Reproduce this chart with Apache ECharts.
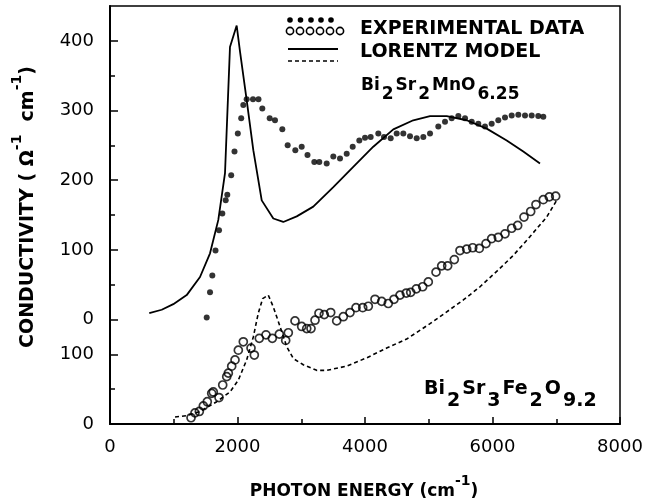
<!DOCTYPE html>
<html><head><meta charset="utf-8">
<script src="https://cdn.jsdelivr.net/npm/echarts@6/dist/echarts.min.js"></script>
<style>html,body{margin:0;padding:0;background:#fff}#c{width:649px;height:504px}</style>
</head><body><div id="c"></div>
<script>
// ---- tick labels ----
const xTickValues = [0, 2000, 4000, 6000, 8000];
const lowerTickLabels = [0, 100];            // Bi2Sr3Fe2O9.2 scale
const upperTickLabels = [0, 100, 200, 300, 400]; // Bi2Sr2MnO6.25 scale
const lowerMinorTicks = [50];
const upperMinorTicks = [50, 150, 250, 350];
const UPPER_OFFSET = 150; // upper curves are shifted up by 150 lower-scale units

// ---- Bi2Sr2MnO6.25 : Lorentz model (solid) ----
const mnModelX = [616, 811, 993, 1203, 1412, 1569, 1699, 1804, 1882, 1987, 2039, 2144, 2248, 2380, 2562, 2718, 2929, 3189, 3503, 3816, 4130, 4444, 4757, 5020, 5282, 5595, 5909, 6223, 6483, 6745];
const mnModelY = [9, 14, 22, 35, 61, 95, 143, 210, 391, 422, 385, 315, 243, 171, 145, 140, 148, 162, 190, 219, 248, 273, 286, 292, 292, 286, 274, 257, 241, 224];

// ---- Bi2Sr2MnO6.25 : experimental (filled dots) ----
const mnExpX = [1517, 1569, 1605, 1655, 1710, 1762, 1815, 1840, 1901, 1953, 2005, 2058, 2091, 2144, 2243, 2329, 2389, 2505, 2588, 2703, 2787, 2907, 3007, 3098, 3205, 3283, 3399, 3503, 3608, 3713, 3807, 3911, 4000, 4089, 4209, 4298, 4403, 4497, 4601, 4706, 4811, 4915, 5020, 5150, 5255, 5360, 5464, 5569, 5674, 5777, 5882, 5987, 6091, 6196, 6301, 6405, 6510, 6615, 6718, 6797];
const mnExpY = [3, 39, 63, 99, 128, 152, 171, 179, 207, 241, 267, 289, 308, 316, 316, 316, 303, 289, 286, 273, 250, 243, 248, 236, 226, 226, 224, 234, 231, 238, 248, 257, 261, 262, 267, 262, 260, 267, 267, 263, 260, 262, 267, 277, 284, 289, 292, 289, 284, 281, 277, 281, 286, 290, 293, 294, 293, 293, 292, 291];

// ---- Bi2Sr3Fe2O9.2 : experimental (open circles) ----
const feExpX = [1271, 1333, 1401, 1464, 1526, 1595, 1620, 1710, 1768, 1831, 1856, 1909, 1961, 2013, 2091, 2212, 2264, 2342, 2447, 2546, 2656, 2756, 2797, 2902, 3007, 3086, 3153, 3216, 3278, 3361, 3462, 3556, 3660, 3765, 3859, 3964, 4052, 4157, 4262, 4365, 4455, 4549, 4648, 4717, 4805, 4905, 4993, 5114, 5203, 5297, 5401, 5490, 5595, 5690, 5793, 5898, 5987, 6091, 6196, 6301, 6395, 6494, 6599, 6682, 6797, 6891, 6991];
const feExpY = [9, 16, 18, 26, 32, 44, 46, 38, 56, 68, 73, 83, 92, 106, 118, 109, 99, 123, 128, 123, 129, 120, 131, 148, 140, 137, 137, 149, 159, 157, 160, 148, 154, 160, 167, 167, 169, 179, 176, 173, 179, 185, 188, 189, 194, 197, 204, 218, 227, 227, 236, 249, 251, 253, 252, 259, 266, 268, 273, 281, 285, 297, 305, 315, 322, 326, 327];

// ---- Bi2Sr3Fe2O9.2 : Lorentz model (dashed) ----
const feModelX = [1020, 1203, 1412, 1674, 1882, 2013, 2144, 2248, 2326, 2395, 2483, 2562, 2667, 2772, 2875, 3032, 3242, 3399, 3713, 4027, 4340, 4654, 5020, 5282, 5542, 5804, 6066, 6326, 6588, 6850, 7007];
const feModelY = [10, 12, 18, 32, 46, 63, 92, 125, 159, 180, 185, 168, 140, 111, 94, 85, 77, 77, 83, 95, 109, 122, 144, 161, 178, 197, 219, 242, 269, 297, 321];

const FONT = "'DejaVu Sans', sans-serif";
const pairs = (xs, ys, off) => xs.map((x, i) => [x, ys[i] + (off || 0)]);

const majorY = lowerTickLabels.concat(upperTickLabels.map(v => v + UPPER_OFFSET));
const minorY = lowerMinorTicks.concat(upperMinorTicks.map(v => v + UPPER_OFFSET));

const chart = echarts.init(document.getElementById('c'), null, {renderer: 'canvas'});
chart.setOption({
  animation: false,
  backgroundColor: '#fff',
  grid: {left: 110, right: 29, top: 6, bottom: 80, show: true, borderColor: '#000', borderWidth: 1.5, outerBoundsMode: 'none', containLabel: false},
  xAxis: {
    type: 'value', min: 0, max: 8000, interval: 2000,
    axisLine: {show: true, lineStyle: {color: '#000', width: 2}},
    axisTick: {show: true, inside: true, length: 7, lineStyle: {color: '#000', width: 1.5}},
    minorTick: {show: true, splitNumber: 2, length: 5, lineStyle: {color: '#000', width: 1.5}},
    axisLabel: {color: '#000', fontSize: 18, fontFamily: FONT, margin: 14,
      customValues: xTickValues, formatter: v => String(v)},
    splitLine: {show: false}, minorSplitLine: {show: false}
  },
  yAxis: [{
    type: 'value', min: 0, max: 600,
    axisLine: {show: true, lineStyle: {color: '#000', width: 2}},
    axisTick: {show: true, inside: true, length: 8, customValues: majorY, lineStyle: {color: '#000', width: 1.5}},
    axisLabel: {color: '#000', fontSize: 18, fontFamily: FONT, margin: 16, customValues: majorY,
      formatter: v => String(v >= UPPER_OFFSET ? v - UPPER_OFFSET : v)},
    splitLine: {show: false}
  }, {
    type: 'value', min: 0, max: 600, position: 'left',
    axisLine: {show: false},
    axisTick: {show: true, inside: true, length: 5, customValues: minorY, lineStyle: {color: '#000', width: 1.5}},
    axisLabel: {show: false},
    splitLine: {show: false}
  }],
  series: [
    {type: 'line', data: pairs(mnModelX, mnModelY, UPPER_OFFSET), showSymbol: false, symbol: 'none',
      lineStyle: {color: '#000', width: 1.8}, z: 2},
    {type: 'line', data: pairs(feModelX, feModelY), showSymbol: false, symbol: 'none',
      lineStyle: {color: '#000', width: 1.6, type: [4, 3]}, z: 2},
    {type: 'scatter', data: pairs(mnExpX, mnExpY, UPPER_OFFSET), symbol: 'circle', symbolSize: 6,
      itemStyle: {color: '#000'}, z: 3},
    {type: 'scatter', data: pairs(feExpX, feExpY), symbol: 'circle', symbolSize: 8,
      itemStyle: {color: 'rgba(0,0,0,0)', borderColor: '#000', borderWidth: 1.7}, z: 3}
  ],
  graphic: [
    // legend glyphs
    {type: 'group', children: [
      ...[290, 300.5, 311, 321, 331].map(cx => ({type: 'circle', shape: {cx, cy: 20, r: 2.8}, style: {fill: '#000'}})),
      ...[290, 300, 310, 320, 330, 340].map(cx => ({type: 'circle', shape: {cx, cy: 31, r: 3.6}, style: {fill: 'none', stroke: '#000', lineWidth: 1.6}})),
      {type: 'line', shape: {x1: 288, y1: 49, x2: 338, y2: 49}, style: {stroke: '#000', lineWidth: 1.8}},
      {type: 'line', shape: {x1: 288, y1: 61, x2: 338, y2: 61}, style: {stroke: '#000', lineWidth: 1.6, lineDash: [4, 3]}}
    ]},
    {type: 'text', x: 360, y: 29.5, style: {text: 'EXPERIMENTAL DATA', fill: '#000', font: "bold 19px 'DejaVu Sans', sans-serif", align: 'left', verticalAlign: 'middle'}},
    {type: 'text', x: 360, y: 52.5, style: {text: 'LORENTZ MODEL', fill: '#000', font: "bold 19px 'DejaVu Sans', sans-serif", align: 'left', verticalAlign: 'middle'}},
    {type: 'text', x: 360, y: 77, style: {
      text: '{b|Bi}{s|2}{b|Sr}{s|2}{b|MnO}{s|6.25}', align: 'left', verticalAlign: 'top',
      rich: {
        b: {fontSize: 17, fontWeight: 'bold', fontFamily: FONT, fill: '#000', lineHeight: 19, verticalAlign: 'top', padding: [0, 1, 0, 1]},
        s: {fontSize: 17, fontWeight: 'bold', fontFamily: FONT, fill: '#000', lineHeight: 26, verticalAlign: 'bottom', padding: [0, 1, 0, 1]}
      }}},
    {type: 'text', x: 423, y: 380, style: {
      text: '{b|Bi}{s|2}{b|Sr}{s|3}{b|Fe}{s|2}{b|O}{s|9.2}', align: 'left', verticalAlign: 'top',
      rich: {
        b: {fontSize: 19, fontWeight: 'bold', fontFamily: FONT, fill: '#000', lineHeight: 21, verticalAlign: 'top', padding: [0, 1, 0, 1]},
        s: {fontSize: 19, fontWeight: 'bold', fontFamily: FONT, fill: '#000', lineHeight: 31, verticalAlign: 'bottom', padding: [0, 1, 0, 1]}
      }}},
    // axis titles
    {type: 'text', x: 364, y: 487, style: {
      text: '{b|PHOTON ENERGY (cm}{p|-1}{b|)}', align: 'center', verticalAlign: 'middle',
      rich: {
        b: {fontSize: 17, fontWeight: 'bold', fontFamily: FONT, fill: '#000', lineHeight: 26, verticalAlign: 'bottom'},
        p: {fontSize: 14, fontWeight: 'bold', fontFamily: FONT, fill: '#000', lineHeight: 16, verticalAlign: 'top'}
      }}},
    {type: 'text', x: 24, y: 207, rotation: Math.PI / 2, style: {
      text: '{b|CONDUCTIVITY ( \u03A9}{p|-1}{b|  cm}{p|-1}{b|)}', align: 'center', verticalAlign: 'middle',
      rich: {
        b: {fontSize: 19, fontWeight: 'bold', fontFamily: FONT, fill: '#000', lineHeight: 27, verticalAlign: 'bottom'},
        p: {fontSize: 14, fontWeight: 'bold', fontFamily: FONT, fill: '#000', lineHeight: 16, verticalAlign: 'top'}
      }}}
  ]
});
</script></body></html>
